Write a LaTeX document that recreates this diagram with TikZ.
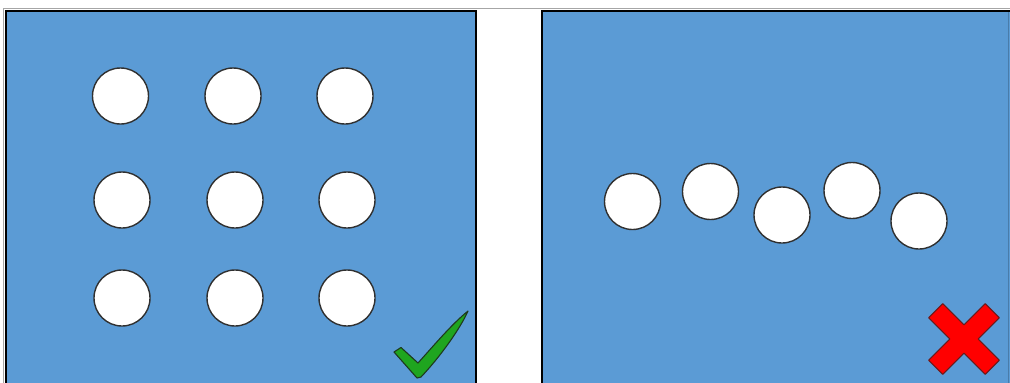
\documentclass[tikz,border=0pt]{standalone}
\usepackage{tikz}
\definecolor{panelblue}{HTML}{5B9BD5}
\definecolor{ringgray}{HTML}{303030}
\definecolor{checkgreen}{HTML}{1FA51F}
\definecolor{checkedge}{HTML}{1E3A1E}
\definecolor{crossred}{HTML}{FF0000}
\definecolor{crossedge}{HTML}{6A1A1A}
\tikzset{
  ball/.style={circle, draw=ringgray, line width=1.4pt, fill=white, minimum size=56pt, inner sep=0pt},
  panel/.style={fill=panelblue, draw=black, line width=2.4pt},
}
\begin{document}
\begin{tikzpicture}[x=1pt,y=-1pt]
\useasboundingbox (0,0) rectangle (1010,383);
\begin{scope}
\clip (0,0) rectangle (1010,383);
% outer gray frame lines
\draw[gray!70, line width=1pt] (3.5,390) -- (3.5,8.5) -- (1012,8.5);
% panels
\draw[panel] (6,11) rectangle (476,392);
\draw[panel] (542,11) rectangle (1030,392);
\draw[panelblue!80!black, line width=1pt] (1008.5,12) -- (1008.5,390);
\end{scope}
% left grid of balls
\node[ball] (a1) at (120.5,96) {};
\node[ball] (a2) at (233,96) {};
\node[ball] (a3) at (345,96) {};
\node[ball] (b1) at (122,200) {};
\node[ball] (b2) at (235,200) {};
\node[ball] (b3) at (347,200) {};
\node[ball] (c1) at (122,298) {};
\node[ball] (c2) at (235,298) {};
\node[ball] (c3) at (347,298) {};
% right scattered balls
\node[ball] (r1) at (632.5,201.5) {};
\node[ball] (r2) at (710.5,191.5) {};
\node[ball] (r3) at (782,215) {};
\node[ball] (r4) at (852,190.5) {};
\node[ball] (r5) at (919,221) {};
% check mark
\draw[fill=checkgreen, draw=checkedge, line width=1.1pt, line join=round]
  (394,352) -- (401,347.5) -- (418,363) .. controls (436,343) and (452,324) .. (468,311)
  .. controls (460,329) and (440,357) .. (421,377) -- (417,378) -- cycle;
% cross
\begin{scope}[shift={(964,339)}, rotate=45]
\draw[fill=crossred, draw=crossedge, line width=1pt, line join=round]
  (40,10) -- (10,10) -- (10,40) -- (-10,40) -- (-10,10) -- (-40,10) -- (-40,-10)
  -- (-10,-10) -- (-10,-40) -- (10,-40) -- (10,-10) -- (40,-10) -- cycle;
\end{scope}
\end{tikzpicture}
\end{document}
